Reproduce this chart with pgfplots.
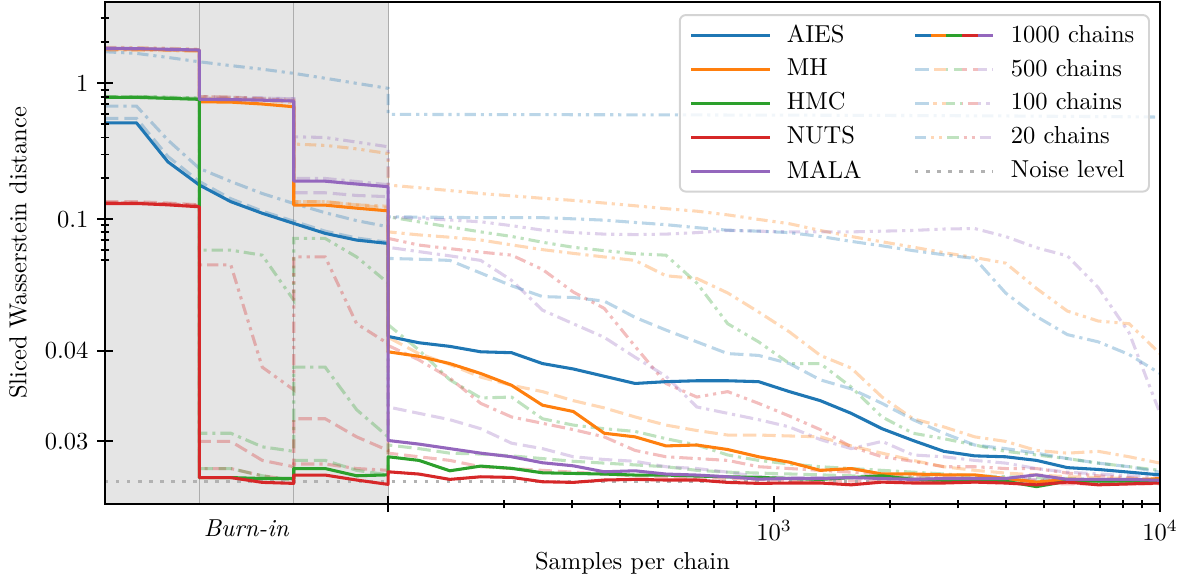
\documentclass[border=0pt]{standalone}
\usepackage{pgfplots}
\usepackage{pgfplotstable}
\pgfplotsset{compat=1.18}

\definecolor{cA}{HTML}{1F77B4}
\definecolor{cB}{HTML}{FF7F0E}
\definecolor{cC}{HTML}{2CA02C}
\definecolor{cD}{HTML}{D62728}
\definecolor{cE}{HTML}{9467BD}

\tikzset{
  c1000/.style={line width=1.25pt, line join=round},
  c500/.style={line width=1.25pt, opacity=0.3, dash pattern=on 5.5pt off 2.4pt},
  c100/.style={line width=1.25pt, opacity=0.3, dash pattern=on 5.5pt off 2pt on 1.3pt off 2pt},
  c20/.style={line width=1.25pt, opacity=0.3, dash pattern=on 4.6pt off 2pt on 1.3pt off 2pt on 1.3pt off 2pt},
  noise/.style={line width=1.3pt, black!30, dash pattern=on 1.4pt off 3.1pt},
}

% five coloured pieces, one per sampler, for the chain-count legend rows
\newcommand\chainline[1]{%
  \foreach \c [count=\i from 0] in {cA,cB,cC,cD,cE}{%
    \pgfmathsetmacro\ph{6.4*\i}%
    \draw[#1,\c,dash phase=\ph pt] (\ph pt,0pt) -- (\ph pt+6.4pt,0pt);%
  }}

% x < 0: burn-in steps (three stages of three steps); x >= 100: samples per chain
% columns: aies mh hmc nuts mala
\pgfplotstableread{
x      aies    mh      hmc     nuts    mala
-9     0.513   1.80    0.789   0.131   1.81
-8     0.513   1.79    0.789   0.131   1.80
-7     0.265   1.77    0.776   0.128   1.78
-6     0.179   1.75    0.763   0.1238  1.757
-6     0.179   0.732   0.0260  0.0260  0.763
-5     0.135   0.728   0.0260  0.0260  0.760
-4     0.111   0.705   0.0259  0.02547 0.752
-3     0.0935  0.673   0.0259  0.02536 0.741
-3     0.0935  0.1274  0.0270  0.02628 0.191
-2     0.079   0.1274  0.0270  0.02628 0.191
-1     0.0705  0.121   0.0262  0.02573 0.182
0      0.0666  0.1156  0.0263  0.02525 0.174
100    0.0416  0.0399  0.0283  0.02664 0.0301
120.2  0.0409  0.0394  0.0279  0.02639 0.0297
144.5  0.0405  0.0386  0.02675 0.0258  0.0292
173.8  0.0399  0.0375  0.02727 0.02609 0.0287
208.9  0.0398  0.0362  0.02702 0.02602 0.0283
251.2  0.0386  0.0340  0.02653 0.02554 0.02764
302    0.0380  0.0333  0.02646 0.02547 0.0273
363.1  0.0372  0.0309  0.02639 0.02573 0.02664
436.5  0.0364  0.0305  0.02628 0.0258  0.02675
524.8  0.0366  0.0295  0.02628 0.02573 0.02639
631    0.0367  0.0296  0.02617 0.02573 0.02628
758.6  0.0367  0.0291  0.02609 0.02547 0.02609
912    0.0366  0.0283  0.02602 0.02536 0.02583
1096   0.0355  0.0277  0.0259  0.0254  0.0259
1318   0.0345  0.0268  0.0258  0.0254  0.0259
1585   0.0331  0.0270  0.0260  0.0252  0.0260
1905   0.0314  0.0264  0.0262  0.0255  0.0259
2291   0.0301  0.0264  0.0258  0.0254  0.0258
2754   0.0289  0.0263  0.0257  0.0254  0.0259
3311   0.0284  0.0263  0.0257  0.0255  0.0259
3981   0.0283  0.0259  0.0256  0.0254  0.0259
4786   0.0279  0.0255  0.0250  0.0252  0.0263
5754   0.0271  0.0258  0.0256  0.0255  0.0258
6918   0.0269  0.0257  0.0256  0.0252  0.0258
8318   0.0266  0.0257  0.0256  0.0253  0.0258
10000  0.0263  0.0259  0.0257  0.0254  0.0257
}\tA

\pgfplotstableread{
x      aies    mh      hmc     nuts    mala
-9     0.553   1.78    0.80    0.135   1.79
-8     0.553   1.77    0.80    0.135   1.78
-7     0.29    1.75    0.79    0.132   1.76
-6     0.19    1.73    0.775   0.128   1.74
-6     0.19    0.80    0.0270  0.0300  0.80
-5     0.142   0.79    0.0270  0.0300  0.79
-4     0.115   0.77    0.0262  0.0279  0.78
-3     0.097   0.74    0.0257  0.0272  0.77
-3     0.097   0.135   0.0279  0.0325  0.157
-2     0.082   0.135   0.0279  0.0325  0.157
-1     0.073   0.128   0.0268  0.0305  0.150
0      0.068   0.121   0.0263  0.0290  0.147
100    0.0517  0.0415  0.0296  0.0287  0.0338
120.2  0.0510  0.0397  0.0292  0.0283  0.0331
144.5  0.0500  0.0385  0.0287  0.0279  0.0324
173.8  0.0486  0.0371  0.0286  0.0272  0.0314
208.9  0.0472  0.0362  0.0284  0.0270  0.0298
251.2  0.0460  0.0355  0.0281  0.0268  0.0292
302    0.0459  0.0345  0.0278  0.0266  0.0283
363.1  0.0455  0.0337  0.0276  0.0264  0.0280
436.5  0.0437  0.0327  0.0274  0.0262  0.0278
524.8  0.0423  0.0318  0.0272  0.0261  0.0272
631    0.0410  0.0312  0.0268  0.0260  0.0270
758.6  0.0397  0.0307  0.0266  0.0259  0.0266
912    0.0395  0.0307  0.0265  0.0258  0.0261
1096   0.0386  0.0306  0.0264  0.0257  0.0260
1318   0.0368  0.0305  0.0263  0.0257  0.0260
1585   0.0358  0.0295  0.0262  0.0256  0.0259
1905   0.0342  0.0287  0.0261  0.0256  0.0259
2291   0.0324  0.0279  0.0260  0.0255  0.0259
2754   0.0309  0.0272  0.0259  0.0255  0.0258
3311   0.0296  0.0268  0.0259  0.0255  0.0258
3981   0.0292  0.0265  0.0258  0.0254  0.0258
4786   0.0287  0.0263  0.0256  0.0254  0.0258
5754   0.0281  0.0261  0.0257  0.0253  0.0257
6918   0.0276  0.0260  0.0257  0.0253  0.0257
8318   0.0272  0.0259  0.0256  0.0253  0.0257
10000  0.0266  0.0257  0.0256  0.0253  0.0257
}\tB

\pgfplotstableread{
x      aies    mh      hmc     nuts    mala
-9     0.681   1.76    0.79    0.132   1.80
-8     0.681   1.75    0.79    0.132   1.79
-7     0.383   1.74    0.78    0.130   1.77
-6     0.237   1.72    0.77    0.126   1.75
-6     0.237   0.78    0.0309  0.0270  0.78
-5     0.19    0.77    0.0309  0.0270  0.775
-4     0.155   0.75    0.0294  0.0262  0.765
-3     0.131   0.72    0.0289  0.0257  0.75
-3     0.131   0.135   0.0382  0.0275  0.20
-2     0.112   0.135   0.0382  0.0275  0.20
-1     0.098   0.128   0.0335  0.0270  0.19
0      0.0883  0.125   0.0305  0.0268  0.18
100    0.1046  0.081   0.0429  0.0406  0.0624
120.2  0.104   0.077   0.0401  0.0390  0.058
144.5  0.1035  0.074   0.0368  0.0370  0.054
173.8  0.103   0.0706  0.0348  0.0342  0.050
208.9  0.1032  0.065   0.0349  0.0327  0.0478
251.2  0.103   0.060   0.0325  0.0320  0.0445
302    0.101   0.0563  0.0318  0.0313  0.043
363.1  0.0988  0.053   0.0314  0.0305  0.0415
436.5  0.095   0.050   0.0311  0.0290  0.0393
524.8  0.0915  0.0483  0.0303  0.0283  0.0372
631    0.087   0.0480  0.0296  0.0281  0.0338
758.6  0.0834  0.0464  0.0285  0.0279  0.0331
912    0.082   0.0443  0.0279  0.0272  0.0324
1096   0.080   0.0421  0.0275  0.0270  0.0316
1318   0.075   0.0395  0.0272  0.0268  0.0302
1585   0.069   0.0381  0.0270  0.0266  0.0292
1905   0.064   0.0349  0.0268  0.0264  0.0300
2291   0.059   0.0325  0.0266  0.0262  0.0285
2754   0.055   0.0316  0.0264  0.0261  0.0283
3311   0.0517  0.0305  0.0262  0.0259  0.0279
3981   0.0464  0.0300  0.0261  0.0258  0.0276
4786   0.0438  0.0290  0.0260  0.0257  0.0270
5754   0.0418  0.0287  0.0259  0.0256  0.0266
6918   0.0410  0.0289  0.0258  0.0255  0.0264
8318   0.0396  0.0283  0.0258  0.0254  0.0262
10000  0.0375  0.0276  0.0257  0.0254  0.0261
}\tC

\pgfplotstableread{
x      aies    mh      hmc     nuts    mala
-9     1.707   1.84    0.80    0.132   1.83
-8     1.66    1.83    0.80    0.132   1.82
-7     1.55    1.81    0.79    0.130   1.80
-6     1.44    1.78    0.78    0.127   1.77
-6     1.44    0.80    0.0595  0.0495  0.80
-5     1.35    0.79    0.0595  0.0495  0.79
-4     1.27    0.77    0.0546  0.0382  0.78
-3     1.184   0.75    0.0456  0.0357  0.77
-3     1.184   0.358   0.0725  0.0531  0.405
-2     1.09    0.35    0.0725  0.0531  0.40
-1     1.0     0.33    0.0530  0.0430  0.37
0      0.919   0.305   0.0475  0.0408  0.342
100    0.592   0.179   0.1046  0.0726  0.104
120.2  0.591   0.171   0.096   0.0648  0.102
144.5  0.590   0.163   0.088   0.0610  0.099
173.8  0.590   0.155   0.081   0.0575  0.0961
208.9  0.589   0.149   0.075   0.0547  0.090
251.2  0.589   0.143   0.068   0.0490  0.0834
302    0.588   0.138   0.0624  0.0465  0.080
363.1  0.588   0.132   0.059   0.0447  0.078
436.5  0.587   0.126   0.056   0.0405  0.0774
524.8  0.587   0.120   0.0546  0.0364  0.078
631    0.586   0.115   0.0475  0.0349  0.080
758.6  0.585   0.108   0.0430  0.0355  0.083
912    0.585   0.100   0.0410  0.0342  0.082
1096   0.584   0.093   0.0386  0.0328  0.081
1318   0.583   0.083   0.0386  0.0313  0.081
1585   0.582   0.0749  0.0360  0.0294  0.081
1905   0.581   0.0685  0.0327  0.0283  0.082
2291   0.580   0.0626  0.0309  0.0278  0.083
2754   0.579   0.0570  0.0303  0.0272  0.085
3311   0.577   0.0525  0.0296  0.0272  0.0857
3981   0.576   0.0497  0.0289  0.0270  0.0749
4786   0.574   0.0469  0.0285  0.0270  0.062
5754   0.572   0.0444  0.0281  0.0265  0.054
6918   0.570   0.0433  0.0276  0.0262  0.047
8318   0.568   0.0430  0.0272  0.0260  0.042
10000  0.565   0.0397  0.0268  0.0257  0.0331
}\tD

\begin{document}
\begin{tikzpicture}
\begin{axis}[
  scale only axis, width=430.6pt, height=204.9pt,
  xmin=-9, xmax=10000, ymin=0.02307, ymax=3.96,
  % burn-in steps are spaced linearly left of 10^2, samples per chain are logarithmic
  x coord trafo/.code={\pgfmathparse{ln(max(#1,100))/ln(10)+0.0815*min(#1,0)}},
  % logarithmic above 0.05, linear below
  y coord trafo/.code={\pgfmathparse{ln(max(#1,0.05))/ln(10)+66.5*(min(#1,0.05)-0.05)}},
  axis on top,
  axis line style={line width=0.9pt},
  tick align=center, xtick pos=bottom, ytick pos=left,
  major tick length=6.5pt, minor tick length=3.5pt,
  every tick/.style={black, line width=0.8pt},
  xtick={100,1000,10000}, xticklabels={,$10^3$,$10^4$},
  minor xtick={200,300,400,500,600,700,800,900,2000,3000,4000,5000,6000,7000,8000,9000},
  extra x ticks={-4.5}, extra x tick labels={\textit{Burn-in}},
  extra x tick style={major tick length=0pt, xticklabel style={yshift=-3pt}},
  ytick={0.03,0.04,0.1,1}, yticklabels={0.03,0.04,0.1,1},
  minor ytick={0.05,0.06,0.07,0.08,0.09,0.2,0.3,0.4,0.5,0.6,0.7,0.8,0.9,2,3},
  xlabel={Samples per chain},
  ylabel={Sliced Wasserstein distance},
  every axis x label/.style={at={(axis description cs:0.5,-0.1175)}, anchor=center},
  every axis y label/.style={at={(axis description cs:-0.0825,0.5)}, anchor=center, rotate=90},
  legend image code/.code={\draw[#1] (0pt,0pt) -- (32pt,0pt);},
  legend columns=2,
  legend cell align=left,
  legend style={at={(axis description cs:0.9905,0.976)}, anchor=north east,
    draw=black!17, line width=0.8pt, rounded corners=2.5pt,
    fill=white, fill opacity=0.8, text opacity=1, draw opacity=1,
    inner xsep=4pt, inner ysep=2pt, row sep=1.3pt,
    /tikz/every odd column/.append style={column sep=4.5pt},
    /tikz/every even column/.append style={column sep=19.2pt}},
]
% burn-in background and stage dividers
\addplot[fill=black!10, draw=none, forget plot] coordinates {(-9,0.02307) (0,0.02307) (0,3.96) (-9,3.96)} -- cycle;
\addplot[black!32, line width=0.45pt, forget plot] coordinates {(-6,0.02307) (-6,3.96)};
\addplot[black!32, line width=0.45pt, forget plot] coordinates {(-3,0.02307) (-3,3.96)};
\addplot[black!32, line width=0.45pt, forget plot] coordinates {(0,0.02307) (0,3.96)};

% 20 chains
\addplot[cA, c20, forget plot] table[x=x, y=aies] {\tD};
\addplot[cB, c20, forget plot] table[x=x, y=mh] {\tD};
\addplot[cC, c20, forget plot] table[x=x, y=hmc] {\tD};
\addplot[cD, c20, forget plot] table[x=x, y=nuts] {\tD};
\addplot[cE, c20, forget plot] table[x=x, y=mala] {\tD};
% 100 chains
\addplot[cA, c100, forget plot] table[x=x, y=aies] {\tC};
\addplot[cB, c100, forget plot] table[x=x, y=mh] {\tC};
\addplot[cC, c100, forget plot] table[x=x, y=hmc] {\tC};
\addplot[cD, c100, forget plot] table[x=x, y=nuts] {\tC};
\addplot[cE, c100, forget plot] table[x=x, y=mala] {\tC};
% 500 chains
\addplot[cA, c500, forget plot] table[x=x, y=aies] {\tB};
\addplot[cB, c500, forget plot] table[x=x, y=mh] {\tB};
\addplot[cC, c500, forget plot] table[x=x, y=hmc] {\tB};
\addplot[cD, c500, forget plot] table[x=x, y=nuts] {\tB};
\addplot[cE, c500, forget plot] table[x=x, y=mala] {\tB};
% noise level
\addplot[noise, forget plot] coordinates {(-9,0.02554) (10000,0.02554)};
% 1000 chains
\addplot[cA, c1000, forget plot] table[x=x, y=aies] {\tA};
\addplot[cB, c1000, forget plot] table[x=x, y=mh] {\tA};
\addplot[cC, c1000, forget plot] table[x=x, y=hmc] {\tA};
\addplot[cD, c1000, forget plot] table[x=x, y=nuts] {\tA};
\addplot[cE, c1000, forget plot] table[x=x, y=mala] {\tA};

% legend, filled row by row
\addlegendimage{cA, c1000}\addlegendentry{AIES}
\addlegendimage{legend image code/.code={\chainline{c1000}}}\addlegendentry{1000 chains}
\addlegendimage{cB, c1000}\addlegendentry{MH}
\addlegendimage{legend image code/.code={\chainline{c500}}}\addlegendentry{500 chains}
\addlegendimage{cC, c1000}\addlegendentry{HMC}
\addlegendimage{legend image code/.code={\chainline{c100}}}\addlegendentry{100 chains}
\addlegendimage{cD, c1000}\addlegendentry{NUTS}
\addlegendimage{legend image code/.code={\chainline{c20}}}\addlegendentry{20 chains}
\addlegendimage{cE, c1000}\addlegendentry{MALA}
\addlegendimage{noise}\addlegendentry{Noise level}
\end{axis}
\path ([shift={(-42.86pt,-31.43pt)}]current axis.south west) rectangle ([shift={(13.88pt,0.82pt)}]current axis.north east);
\end{tikzpicture}
\end{document}
